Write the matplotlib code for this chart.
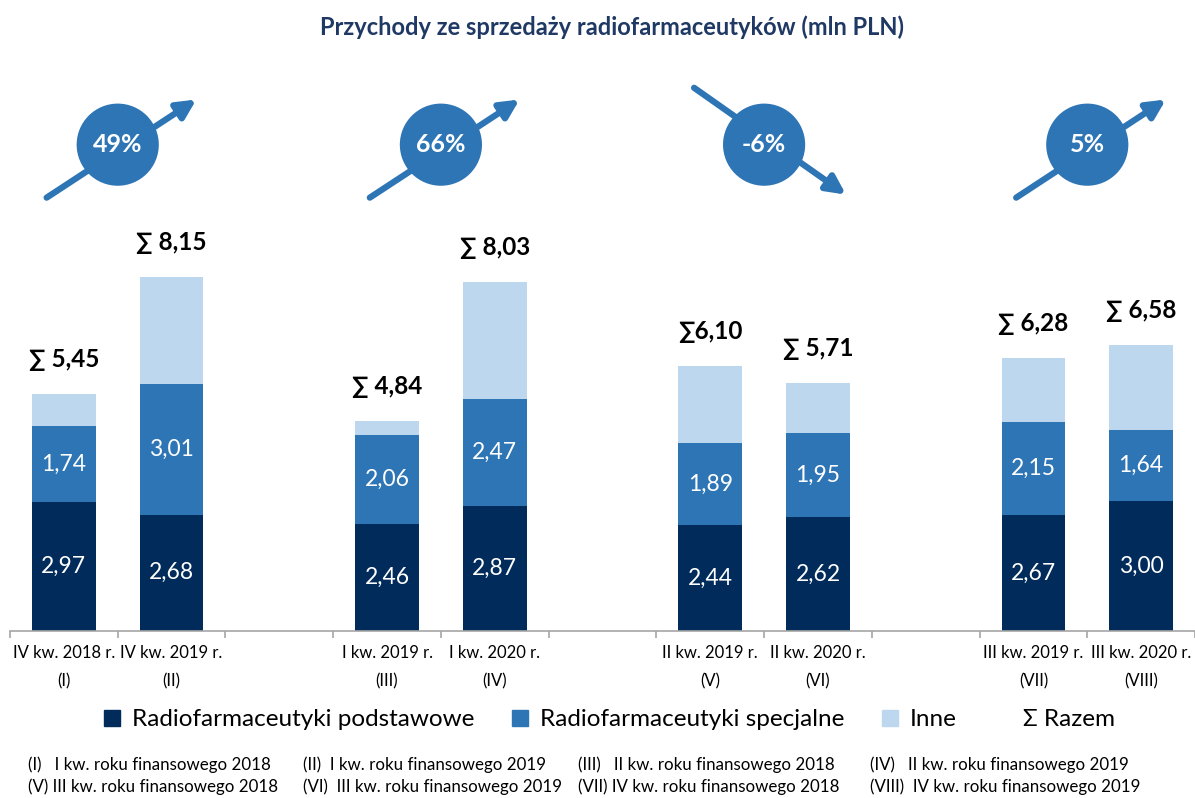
import numpy as np
import matplotlib
matplotlib.use('Agg')
import matplotlib.pyplot as plt
from matplotlib.patches import Patch

plt.rcParams['font.family'] = ['Lato', 'DejaVu Sans']

# dane (mln PLN)
tick_labels = ['IV kw. 2018 r.\n(I)', 'IV kw. 2019 r.\n(II)',
               'I kw. 2019 r.\n(III)', 'I kw. 2020 r.\n(IV)',
               'II kw. 2019 r.\n(V)', 'II kw. 2020 r.\n(VI)',
               'III kw. 2019 r.\n(VII)', 'III kw. 2020 r.\n(VIII)']
podstawowe = [2.97, 2.68, 2.46, 2.87, 2.44, 2.62, 2.67, 3.00]
specjalne = [1.74, 3.01, 2.06, 2.47, 1.89, 1.95, 2.15, 1.64]
inne = [0.74, 2.46, 0.32, 2.69, 1.77, 1.14, 1.46, 1.94]
razem_labels = ['∑ 5,45', '∑ 8,15', '∑ 4,84', '∑ 8,03',
                '∑6,10', '∑ 5,71', '∑ 6,28', '∑ 6,58']
zmiany = [49, 66, -6, 5]

footnotes = [['(I)   I kw. roku finansowego 2018', '(II)  I kw. roku finansowego 2019',
              '(III)   II kw. roku finansowego 2018', '(IV)   II kw. roku finansowego 2019'],
             ['(V) III kw. roku finansowego 2018', '(VI)  III kw. roku finansowego 2019',
              '(VII) IV kw. roku finansowego 2018', '(VIII)  IV kw. roku finansowego 2019']]

c_dark = '#002B5A'
c_mid = '#2E75B6'
c_light = '#BDD7EE'

fig = plt.figure(figsize=(11.95, 7.98), dpi=100)
ax = fig.add_axes([10 / 1195, 167 / 798, 1185 / 1195, 571 / 798])

# 4 grupy po 2 słupki, z pustym miejscem pomiędzy
x = np.array([g * 3 + j for g in range(4) for j in range(2)])
w = 0.59
p = np.array(podstawowe)
s = np.array(specjalne)
i = np.array(inne)

ax.bar(x, p, w, color=c_dark)
ax.bar(x, s, w, bottom=p, color=c_mid)
ax.bar(x, i, w, bottom=p + s, color=c_light)

for k in range(len(x)):
    ax.text(x[k], p[k] / 2, f'{p[k]:.2f}'.replace('.', ','), color='white',
            ha='center', va='center', fontsize=16.5)
    ax.text(x[k], p[k] + s[k] / 2, f'{s[k]:.2f}'.replace('.', ','), color='white',
            ha='center', va='center', fontsize=16.5)
    ax.annotate(razem_labels[k], (x[k], p[k] + s[k] + i[k]), xytext=(0, 25),
                textcoords='offset points', ha='center', va='center',
                fontsize=17.5, fontweight='bold', color='black')

ax.set_xlim(-0.5, 10.5)
ax.set_ylim(0, 13.15)
ax.set_xticks(np.arange(-0.5, 11, 1))
ax.set_xticklabels([])
ax.set_xticks(x, tick_labels, minor=True)
ax.tick_params(axis='x', which='major', length=5, color='#A6A6A6', width=1.2)
ax.tick_params(axis='x', which='minor', length=0, pad=10, labelsize=12,
               labelcolor='black')
for lab in ax.get_xticklabels(minor=True):
    lab.set_linespacing(1.95)
ax.set_yticks([])
for sp in ['left', 'right', 'top']:
    ax.spines[sp].set_visible(False)
ax.spines['bottom'].set_color('#A6A6A6')
ax.spines['bottom'].set_linewidth(1.2)

# kółka ze zmianą r/r i strzałki
cy = 11.2
for g, z in enumerate(zmiany):
    cx = g * 3 + 0.5
    if z >= 0:
        start, end = (cx - 0.66, cy - 1.22), (cx + 0.73, cy + 1.04)
    else:
        start, end = (cx - 0.65, cy + 1.31), (cx + 0.76, cy - 1.15)
    ax.annotate('', xy=end, xytext=start, annotation_clip=False,
                arrowprops=dict(arrowstyle='-|>', lw=4.5, color=c_mid,
                                mutation_scale=28, shrinkA=0, shrinkB=0))
    ax.scatter([cx], [cy], s=3500, color=c_mid, zorder=5, clip_on=False,
               edgecolors='none')
    ax.text(cx, cy, f'{z}%', color='white', ha='center', va='center',
            fontsize=18, fontweight='bold', zorder=6)

fig.text(0.512, 1 - 27 / 798, 'Przychody ze sprzedaży radiofarmaceutyków (mln PLN)',
         ha='center', va='center', fontsize=17, fontweight='bold', color='#1F3864')

handles = [Patch(color=c_dark), Patch(color=c_mid), Patch(color=c_light),
           Patch(facecolor='none', edgecolor='none')]
fig.legend(handles, ['Radiofarmaceutyki podstawowe', 'Radiofarmaceutyki specjalne',
                     'Inne', 'Σ Razem'],
           loc='center', bbox_to_anchor=(0.51, 1 - 720 / 798), ncol=4,
           frameon=False, fontsize=17.5, handlelength=0.65, handleheight=0.65,
           handletextpad=0.5, columnspacing=1.55)

col_x = [28, 303, 578, 870]
row_y = [765, 787]
for r, row in enumerate(footnotes):
    for c, t in enumerate(row):
        fig.text(col_x[c] / 1195, 1 - row_y[r] / 798, t, ha='left', va='center',
                 fontsize=12.2)

fig.savefig('out.png', dpi=100)
